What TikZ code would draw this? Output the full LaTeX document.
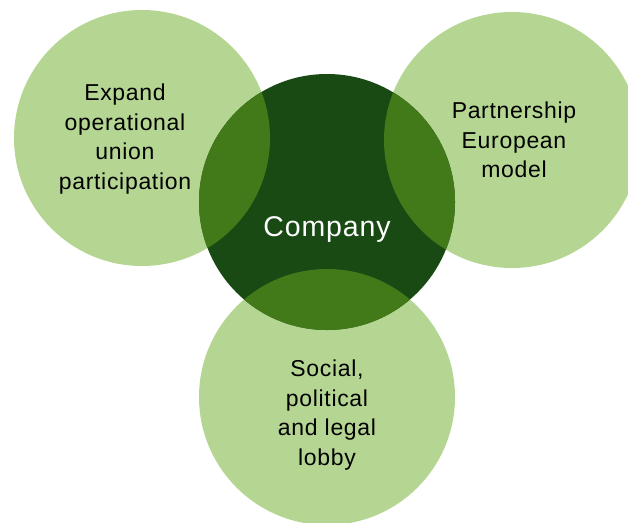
\documentclass[tikz,border=0pt]{standalone}
\usepackage{fontspec}
\setmainfont{Liberation Sans}[LetterSpace=3]

\definecolor{lightgreen}{HTML}{B5D692}
\definecolor{midgreen}{HTML}{427A1A}
\definecolor{darkgreen}{HTML}{1A4A13}

\begin{document}
\begin{tikzpicture}[x=1pt, y=-1pt,
    bubble/.style={circle, minimum size=256pt, inner sep=0pt, fill=lightgreen},
    bubbletext/.style={align=center, text=black, font=\fontsize{23}{29.5}\selectfont}]
    \useasboundingbox (0,0) rectangle (628,522);
    \clip (0,0) rectangle (628,522);

    % Define circles
    \node[bubble] (union) at (142,138) {};
    \node[bubble] (europe) at (512,140) {};
    \node[bubble] (lobby) at (327,397) {};
    \node[bubble, fill=darkgreen] (company) at (327,202) {};

    % Overlaps with the company circle
    \begin{scope}
    \clip (company.center) circle[radius=128pt];
    \fill[midgreen] (union.center) circle[radius=128pt];
    \fill[midgreen] (europe.center) circle[radius=128pt];
    \fill[midgreen] (lobby.center) circle[radius=128pt];
    \end{scope}

    % Texts
    \node[bubbletext] (uniontext) at ([xshift=-17pt, yshift=-1pt]union.center) {Expand\\operational\\union\\participation};
    \node[bubbletext] (europetext) at ([xshift=2pt]europe.center) {Partnership\\European\\model};
    \node[bubbletext] (lobbytext) at ([yshift=-18pt]lobby.center) {Social,\\political\\and legal\\lobby};
    \node[text=white, font=\fontsize{28.5}{34}\selectfont] (companytext) at ([yshift=-28pt]company.center) {Company};

\end{tikzpicture}
\end{document}
